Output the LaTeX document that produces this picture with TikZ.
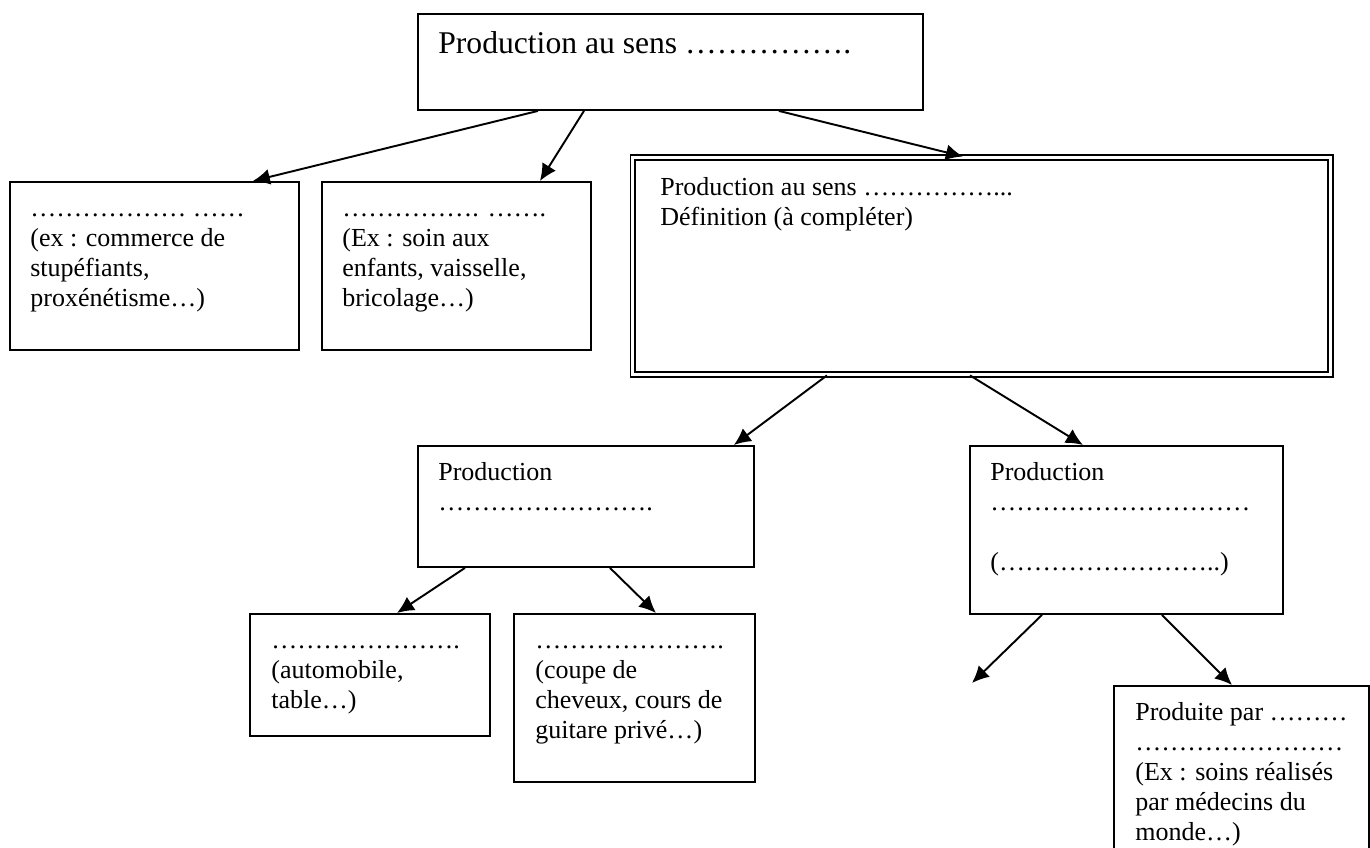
\documentclass[tikz,border=0pt]{standalone}
\usepackage{fontspec}
\setmainfont{Liberation Serif}
\usepackage{tikz}
\usetikzlibrary{arrows.meta,positioning}
\newcommand{\ellip}[1]{\foreach \k in {1,...,#1}{…}}
\tikzstyle{box} = [rectangle, draw, line width=1.1pt, anchor=north west, inner sep=0pt]
\tikzstyle{dblbox} = [box, double, double distance=1.7pt]
\tikzstyle{txt} = [anchor=north west, inner sep=0pt, align=left, font=\fontsize{14.8}{17}\selectfont]
\tikzstyle{arrow} = [line width=1.1pt, -{Latex[length=3.4mm, width=3.2mm]}]

\begin{document}
\begin{tikzpicture}[x=0.02cm, y=-0.02cm]
\useasboundingbox (0,0) rectangle (1370,848);
% Top box
\node[box, minimum width=10.1cm, minimum height=1.92cm] (sens) at (417,13) {};
\node[txt, font=\fontsize{18}{20.7}\selectfont, below right=0.29cm and 0.42cm of sens.north west] (sens-t) {\strut Production au sens \ellip{5}.};

% Not counted
\node[box, minimum width=5.78cm, minimum height=3.36cm] (illegal) at (9,181) {};
\node[txt, below right=0.29cm and 0.42cm of illegal.north west] (illegal-t) {\strut\ellip{6} \ellip{2}\\(ex : commerce de\\stupéfiants,\\proxénétisme…)};
\node[box, minimum width=5.38cm, minimum height=3.36cm] (domestic) at (321,181) {};
\node[txt, below right=0.29cm and 0.42cm of domestic.north west] (domestic-t) {\strut\ellip{5}. \ellip{2}.\\(Ex : soin aux\\enfants, vaisselle,\\bricolage…)};

% Double box
\node[dblbox, minimum width=13.96cm, minimum height=4.34cm] (eco) at (632,156.5) {};
\node[txt, below right=0.36cm and 0.56cm of eco.north west] (eco-t) {\strut Production au sens \ellip{5}...\\Définition (à compléter)};

% Second level
\node[box, minimum width=6.72cm, minimum height=2.42cm] (market) at (417,445) {};
\node[txt, below right=0.29cm and 0.42cm of market.north west] (market-t) {\strut Production\\\ellip{8}.};
\node[box, minimum width=6.26cm, minimum height=3.36cm] (nonmarket) at (969,445) {};
\node[txt, below right=0.29cm and 0.42cm of nonmarket.north west] (nonmarket-t) {\strut Production\\\ellip{10}\\\\(\ellip{8}..)};

% Third level
\node[box, minimum width=4.8cm, minimum height=2.44cm] (goods) at (249,613) {};
\node[txt, below right=0.29cm and 0.44cm of goods.north west] (goods-t) {\strut\ellip{7}.\\(automobile,\\table…)};
\node[box, minimum width=4.82cm, minimum height=3.36cm] (services) at (513,613) {};
\node[txt, below right=0.29cm and 0.44cm of services.north west] (services-t) {\strut\ellip{7}.\\(coupe de\\cheveux, cours de\\guitare privé…)};
\node[box, minimum width=5.1cm, minimum height=5cm] (ngo) at (1113,685) {};
\node[txt, below right=0.29cm and 0.44cm of ngo.north west] (ngo-t) {\strut Produite par \ellip{3}\\\ellip{8}\\(Ex : soins réalisés\\par médecins du\\monde…)};
\coordinate (left-end) at (972,683);

% Arrows
\draw[arrow] ([xshift=2.42cm]sens.south west) -- ([xshift=-0.94cm]illegal.north east);
\draw[arrow] ([xshift=3.34cm]sens.south west) -- ([xshift=4.38cm]domestic.north west);
\draw[arrow] ([xshift=-2.9cm]sens.south east) -- ([xshift=6.62cm]eco.north west);
\draw[arrow] ([xshift=3.9cm]eco.south west) -- ([xshift=-0.42cm]market.north east);
\draw[arrow] ([xshift=6.76cm]eco.south west) -- ([xshift=2.28cm]nonmarket.north west);
\draw[arrow] ([xshift=0.96cm]market.south west) -- ([xshift=2.96cm]goods.north west);
\draw[arrow] ([xshift=3.86cm]market.south west) -- ([xshift=2.86cm]services.north west);
\draw[arrow] ([xshift=1.46cm]nonmarket.south west) -- (left-end);
\draw[arrow] ([xshift=3.86cm]nonmarket.south west) -- ([xshift=2.38cm]ngo.north west);
\end{tikzpicture}
\end{document}
